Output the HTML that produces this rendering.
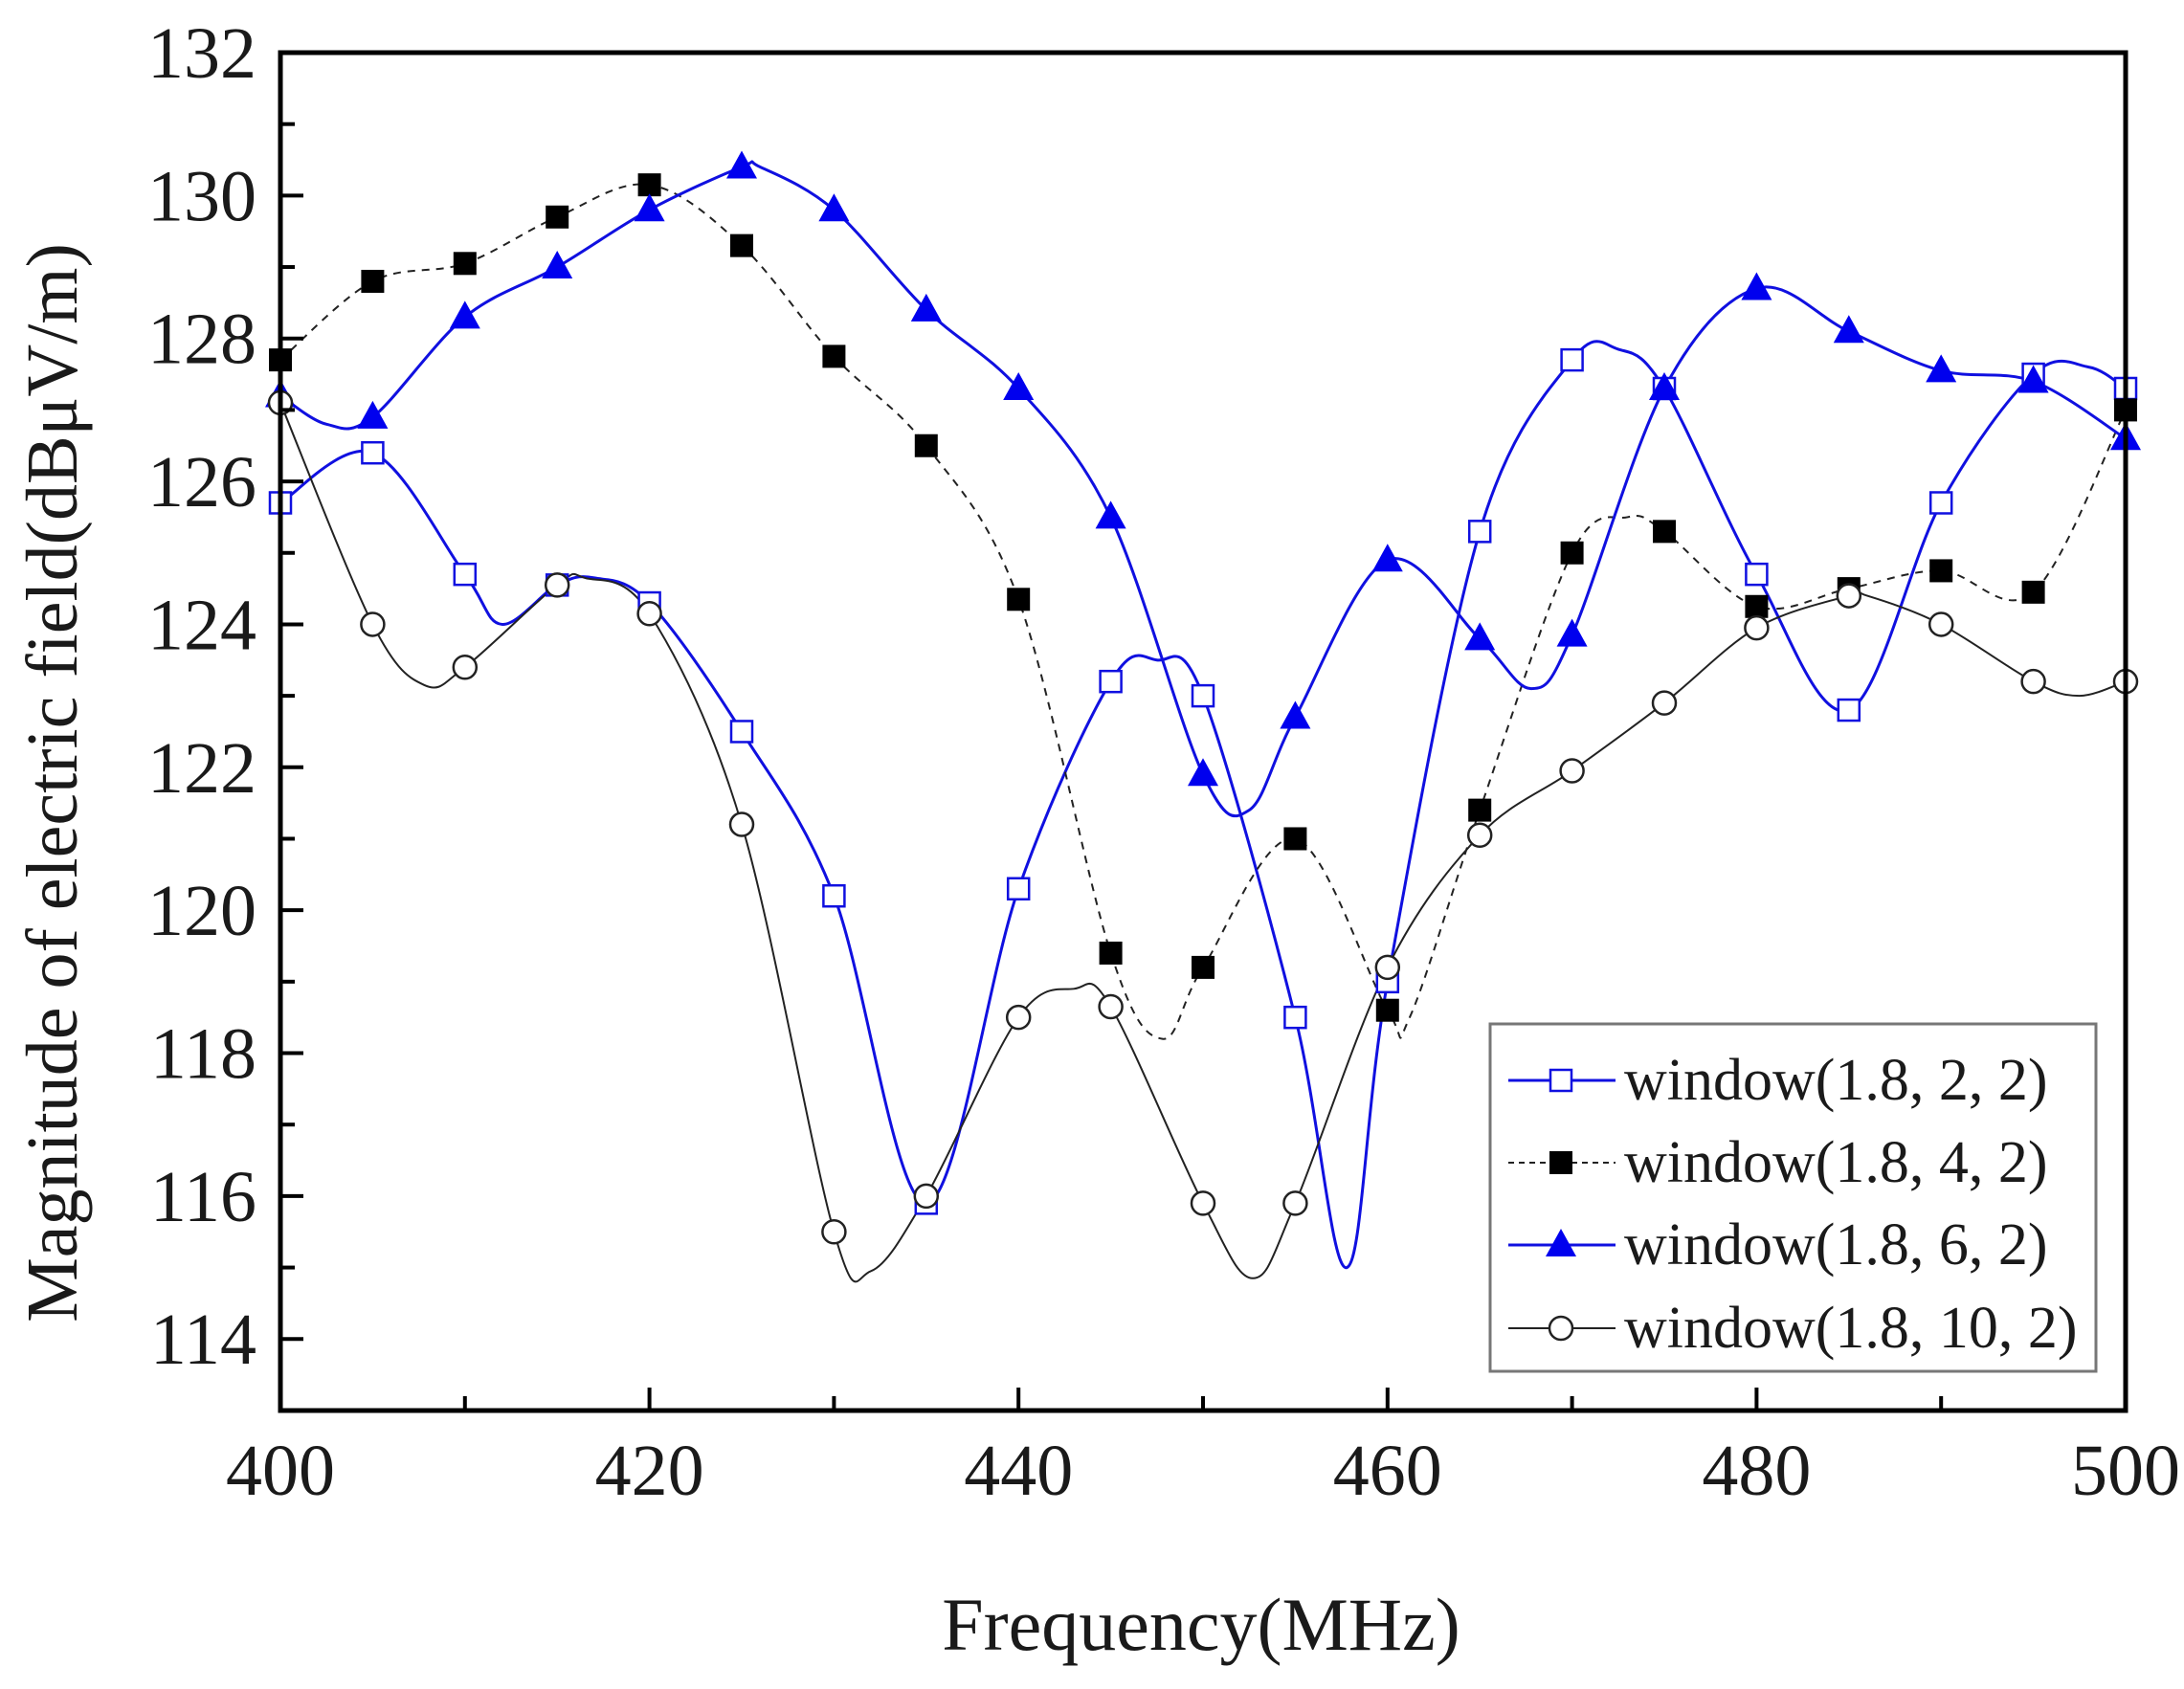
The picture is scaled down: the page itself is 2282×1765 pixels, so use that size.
<!DOCTYPE html>
<html><head><meta charset="utf-8"><style>
html,body{margin:0;padding:0;background:#fff;}
svg{display:block;}
text{font-family:"Liberation Serif",serif;fill:#1a1a1a;}
</style></head><body>
<svg id="c" width="2282" height="1765" viewBox="0 0 2282 1765" xmlns="http://www.w3.org/2000/svg">
<rect width="2282" height="1765" fill="#fff"/>
<g id="curves"></g>
<g id="marks"></g>
<rect x="293" y="55" width="1928" height="1419" fill="none" stroke="#000" stroke-width="5"/>
<g id="ticks" stroke="#000" stroke-width="4"></g>
<g id="labels" font-size="76"></g>
<text x="1255" y="1724" font-size="78" text-anchor="middle">Frequency(MHz)</text>
<text transform="translate(80,818) rotate(-90)" font-size="76" text-anchor="middle">Magnitude of electric field(dBμV/m)</text>
<rect x="1557" y="1070" width="633" height="363" fill="#fff" stroke="#777" stroke-width="3"/>
<g id="legend" font-size="62"></g>
</svg>
<script>
const X=f=>293+(f-400)*19.28, Y=v=>55+(132-v)*74.68;
const NS="http://www.w3.org/2000/svg";
function el(p,t,a,txt){const e=document.createElementNS(NS,t);for(const k in a)e.setAttribute(k,a[k]);if(txt!==undefined)e.textContent=txt;document.getElementById(p).appendChild(e);return e;}
const fs=[];for(let f=400;f<=500;f+=5)fs.push(f);
const S=[
{v:[125.7,126.4,124.7,124.55,124.3,122.5,120.2,115.9,120.3,123.2,123.0,118.5,119.0,125.3,127.7,127.3,124.7,122.8,125.7,127.5,127.3],
 ex:[[412,124.0],[417,124.65],[447.5,123.5],[457.8,115.0],[472.5,127.85],[498,127.6]],col:"#1010e0",w:3,dash:null,m:"osq"},
{v:[127.7,128.8,129.05,129.7,130.15,129.3,127.75,126.5,124.35,119.4,119.2,121.0,118.6,121.4,125.0,125.3,124.25,124.5,124.75,124.45,127.0],
 ex:[[447.8,118.2],[461.2,118.5],[473,125.5]],col:"#222",w:2,dash:"8 7",m:"fsq"},
{v:[127.2,126.9,128.3,129.0,129.8,130.4,129.8,128.4,127.3,125.5,121.9,122.7,124.9,123.8,123.85,127.3,128.7,128.1,127.55,127.4,126.6],
 ex:[[402.5,126.8],[452.5,121.4],[467.8,123.1],[426,130.4]],col:"#1010e0",w:3,dash:null,m:"tri"},
{v:[127.1,124.0,123.4,124.55,124.15,121.2,115.5,116.0,118.5,118.65,115.9,115.9,119.2,121.05,121.95,122.9,123.95,124.4,124.0,123.2,123.2],
 ex:[[407.8,123.15],[416.5,124.65],[432,114.95],[443,118.9],[452.7,114.85],[486,124.4],[497.5,123.0]],col:"#222",w:2,dash:null,m:"oc"}
];
function path(pts){let d="M"+pts[0][0]+","+pts[0][1];
 for(let i=0;i<pts.length-1;i++){const p0=pts[Math.max(0,i-1)],p1=pts[i],p2=pts[i+1],p3=pts[Math.min(pts.length-1,i+2)];
 const c1=[p1[0]+(p2[0]-p0[0])/6,p1[1]+(p2[1]-p0[1])/6],c2=[p2[0]-(p3[0]-p1[0])/6,p2[1]-(p3[1]-p1[1])/6];
 d+=" C"+c1.join(",")+" "+c2.join(",")+" "+p2.join(",");}return d;}
function marker(g,m,x,y,col){
 if(m=="osq")el(g,"rect",{x:x-11,y:y-11,width:22,height:22,fill:"#fff",stroke:col,"stroke-width":2.5});
 if(m=="fsq")el(g,"rect",{x:x-12,y:y-12,width:24,height:24,fill:"#000"});
 if(m=="tri")el(g,"polygon",{points:`${x},${y-17} ${x-16},${y+12} ${x+16},${y+12}`,fill:"#0000ee"});
 if(m=="oc")el(g,"circle",{cx:x,cy:y,r:12,fill:"#fff",stroke:"#222","stroke-width":2.5});
}
S.forEach(s=>{let pts=fs.map((f,i)=>[f,s.v[i]]).concat(s.ex);pts.sort((a,b)=>a[0]-b[0]);
 pts=pts.map(p=>[X(p[0]),Y(p[1])]);
 const a={d:path(pts),fill:"none",stroke:s.col,"stroke-width":s.w};if(s.dash)a["stroke-dasharray"]=s.dash;el("curves","path",a);});
S.forEach(s=>fs.forEach((f,i)=>marker("marks",s.m,X(f),Y(s.v[i]),s.col)));
for(let v=113;v<=132;v++){const maj=v%2==0;el("ticks","line",{x1:293,x2:293+(maj?24:15),y1:Y(v),y2:Y(v)});
 if(maj)el("labels","text",{x:268,y:Y(v)+26,"text-anchor":"end"},String(v));}
for(let f=400;f<=500;f+=10){const maj=f%20==0;el("ticks","line",{x1:X(f),x2:X(f),y1:1474,y2:1474-(maj?24:15)});
 if(maj)el("labels","text",{x:X(f),y:1562,"text-anchor":"middle"},String(f));}
const L=[["window(1.8, 2, 2)",1129],["window(1.8, 4, 2)",1215],["window(1.8, 6, 2)",1301],["window(1.8, 10, 2)",1388]];
L.forEach((l,i)=>{const s=S[i];const a={x1:1576,x2:1688,y1:l[1],y2:l[1],stroke:s.col,"stroke-width":s.w};if(s.dash)a["stroke-dasharray"]="6 5";
 el("legend","line",a);marker("legend",s.m,1631,l[1],s.col);el("legend","text",{x:1697,y:l[1]+20},l[0]);});
</script>
</body></html>
